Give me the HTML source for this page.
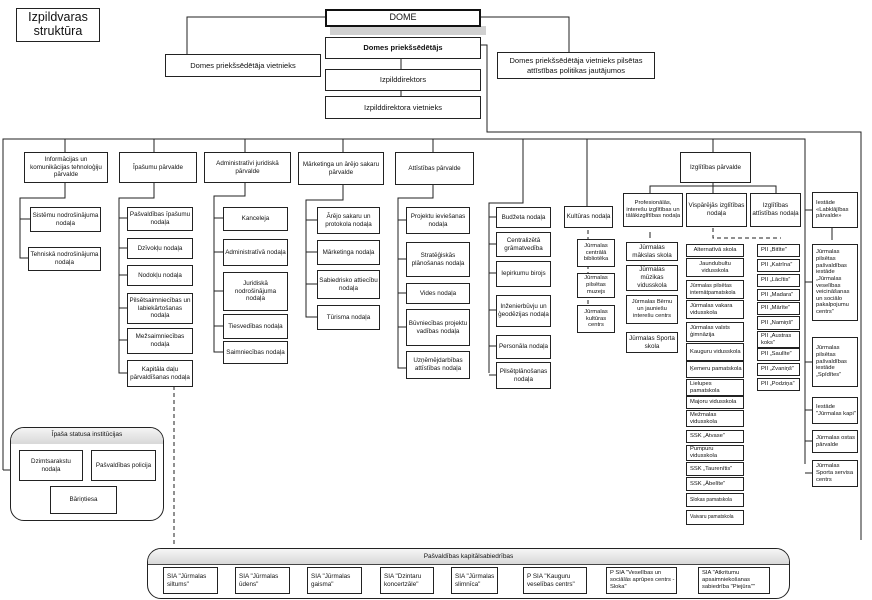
<!DOCTYPE html>
<html><head><meta charset="utf-8"><style>
*{margin:0;padding:0;box-sizing:border-box}
body{width:872px;height:600px;background:#fff;position:relative;overflow:hidden;font-family:"Liberation Sans",sans-serif;color:#111}
.b{position:absolute;border:1px solid #222;background:#fff;display:flex;align-items:center;justify-content:center;text-align:center;font-size:6.3px;line-height:1.25;padding:0 1px}
.l{justify-content:flex-start;text-align:left;padding-left:3px}
.s{font-size:5.8px;line-height:1.2}
.m{font-size:8px}
svg{position:absolute;left:0;top:0}
.r{position:absolute;border:1px solid #222;border-radius:14px;background:#fff}
.h{position:absolute;font-size:6.5px;text-align:center}
</style></head><body>
<svg width="872" height="600">
<g stroke="#222" stroke-width="1" fill="none">
<rect x="330" y="26" width="156" height="9" fill="#d0d0d0" stroke="none"/>
<path d="M325 17H187V54M480 17H569V52M401 58V118M480 45H487V132H861V540M3 470V139H805V464"/>
<path d="M65 139V152M154 139V152M245 139V152M343 139V152M433 139V152M523 139V203H489V373M587 139V206M713 139V152"/>
<path d="M65 182V198H20V258H28M20 219H30"/>
<path d="M154 182V198H119V373H127M119 218H127M119 248H127M119 275H127M119 308H127M119 340H127"/>
<path d="M245 182V196H214V352H223M214 218H223M214 252H223M214 291H223M214 326H223"/>
<path d="M343 184V200H306V317H317M306 220H317M306 252H317M306 284H317"/>
<path d="M433 184V198H398V368H406M398 220H406M398 259H406M398 293H406M398 327H406"/>
<path d="M489 217H496M489 244H496M489 273H496M489 310H496M489 346H496M489 375H496"/>
<path d="M713 182V186H650V193M713 186V193M713 186H776V193"/>
<path d="M805 210H812M805 282H812M805 362H812M805 410H812M805 441H812M805 473H812M3 470H10"/>
<path d="M650 232V238M832 228V240" />
<path d="M588 230V324M585 252H590M585 285H590M585 318H590M713 228V238H781M174 386V546" stroke-dasharray="4,3"/>
</g>
</svg>
<div class="b m" style="left:16px;top:8px;width:84px;height:34px;font-size:12.5px;line-height:1.1">Izpildvaras<br>struktūra</div>
<div class="b m" style="left:325px;top:9px;width:156px;height:18px;border:2px solid #111;font-size:9px">DOME</div>
<div class="b m" style="left:325px;top:37px;width:156px;height:22px;font-weight:bold;font-size:7.5px">Domes priekšsēdētājs</div>
<div class="b m" style="left:165px;top:54px;width:156px;height:23px;font-size:7.5px">Domes priekšsēdētāja vietnieks</div>
<div class="b m" style="left:497px;top:52px;width:158px;height:27px;font-size:7.5px">Domes priekšsēdētāja vietnieks pilsētas attīstības politikas jautājumos</div>
<div class="b m" style="left:325px;top:69px;width:156px;height:22px;font-size:7.5px">Izpilddirektors</div>
<div class="b m" style="left:325px;top:96px;width:156px;height:23px;font-size:7.5px">Izpilddirektora vietnieks</div>

<div class="b" style="left:24px;top:152px;width:84px;height:31px">Informācijas un komunikācijas tehnoloģiju pārvalde</div>
<div class="b" style="left:119px;top:152px;width:78px;height:31px">Īpašumu pārvalde</div>
<div class="b" style="left:204px;top:152px;width:87px;height:31px">Administratīvi juridiskā pārvalde</div>
<div class="b" style="left:298px;top:152px;width:86px;height:33px">Mārketinga un ārējo sakaru pārvalde</div>
<div class="b" style="left:395px;top:152px;width:79px;height:33px">Attīstības pārvalde</div>
<div class="b" style="left:680px;top:152px;width:71px;height:31px">Izglītības pārvalde</div>

<div class="b" style="left:30px;top:207px;width:71px;height:25px">Sistēmu nodrošinājuma nodaļa</div>
<div class="b" style="left:28px;top:247px;width:73px;height:24px">Tehniskā nodrošinājuma nodaļa</div>

<div class="b" style="left:127px;top:207px;width:66px;height:24px">Pašvaldības īpašumu nodaļa</div>
<div class="b" style="left:127px;top:238px;width:66px;height:21px">Dzīvokļu nodaļa</div>
<div class="b" style="left:127px;top:265px;width:66px;height:21px">Nodokļu nodaļa</div>
<div class="b" style="left:127px;top:293px;width:66px;height:31px">Pilsētsaimniecības un labiekārtošanas nodaļa</div>
<div class="b" style="left:127px;top:328px;width:66px;height:26px">Mežsaimniecības nodaļa</div>
<div class="b" style="left:127px;top:360px;width:66px;height:27px">Kapitāla daļu pārvaldīšanas nodaļa</div>

<div class="b" style="left:223px;top:207px;width:65px;height:24px">Kanceleja</div>
<div class="b" style="left:223px;top:239px;width:65px;height:27px">Administratīvā nodaļa</div>
<div class="b" style="left:223px;top:272px;width:65px;height:39px">Juridiskā nodrošinājuma nodaļa</div>
<div class="b" style="left:223px;top:314px;width:65px;height:25px">Tiesvedības nodaļa</div>
<div class="b" style="left:223px;top:341px;width:65px;height:23px">Saimniecības nodaļa</div>

<div class="b" style="left:317px;top:207px;width:63px;height:27px">Ārējo sakaru un protokola nodaļa</div>
<div class="b" style="left:317px;top:240px;width:63px;height:25px">Mārketinga nodaļa</div>
<div class="b" style="left:317px;top:270px;width:63px;height:29px">Sabiedrisko attiecību nodaļa</div>
<div class="b" style="left:317px;top:305px;width:63px;height:25px">Tūrisma nodaļa</div>

<div class="b" style="left:406px;top:207px;width:64px;height:27px">Projektu ieviešanas nodaļa</div>
<div class="b" style="left:406px;top:242px;width:64px;height:35px">Stratēģiskās plānošanas nodaļa</div>
<div class="b" style="left:406px;top:283px;width:64px;height:21px">Vides nodaļa</div>
<div class="b" style="left:406px;top:309px;width:64px;height:37px">Būvniecības projektu vadības nodaļa</div>
<div class="b" style="left:406px;top:351px;width:64px;height:28px">Uzņēmējdarbības attīstības nodaļa</div>

<div class="b" style="left:496px;top:207px;width:55px;height:21px">Budžeta nodaļa</div>
<div class="b" style="left:496px;top:232px;width:55px;height:25px">Centralizētā grāmatvedība</div>
<div class="b" style="left:496px;top:261px;width:55px;height:26px">Iepirkumu birojs</div>
<div class="b" style="left:496px;top:295px;width:55px;height:32px">Inženierbūvju un ģeodēzijas nodaļa</div>
<div class="b" style="left:496px;top:335px;width:55px;height:24px">Personāla nodaļa</div>
<div class="b" style="left:496px;top:362px;width:55px;height:27px">Pilsētplānošanas nodaļa</div>

<div class="b" style="left:564px;top:206px;width:49px;height:22px">Kultūras nodaļa</div>
<div class="b s" style="left:577px;top:239px;width:38px;height:28px">Jūrmalas centrālā bibliotēka</div>
<div class="b s" style="left:577px;top:273px;width:38px;height:25px">Jūrmalas pilsētas muzejs</div>
<div class="b s" style="left:577px;top:305px;width:38px;height:28px">Jūrmalas kultūras centrs</div>

<div class="b s" style="left:623px;top:193px;width:60px;height:34px">Profesionālās, interešu izglītības un tālākizglītības nodaļa</div>
<div class="b" style="left:686px;top:193px;width:61px;height:34px">Vispārējās izglītības nodaļa</div>
<div class="b" style="left:750px;top:193px;width:51px;height:34px">Izglītības attīstības nodaļa</div>

<div class="b" style="left:626px;top:242px;width:52px;height:19px">Jūrmalas mākslas skola</div>
<div class="b" style="left:626px;top:265px;width:52px;height:26px">Jūrmalas mūzikas vidusskola</div>
<div class="b s" style="left:626px;top:295px;width:52px;height:29px">Jūrmalas Bērnu un jauniešu interešu centrs</div>
<div class="b" style="left:626px;top:332px;width:52px;height:21px">Jūrmalas Sporta skola</div>

<div class="b s" style="left:686px;top:244px;width:58px;height:13px">Alternatīvā skola</div>
<div class="b s" style="left:686px;top:258px;width:58px;height:19px">Jaundubultu vidusskola</div>
<div class="b l s" style="left:686px;top:280px;width:58px;height:19px;font-size:5.4px">Jūrmalas pilsētas internātpamatskola</div>
<div class="b l s" style="left:686px;top:300px;width:58px;height:19px">Jūrmalas vakara vidusskola</div>
<div class="b l s" style="left:686px;top:322px;width:58px;height:20px">Jūrmalas valsts ģimnāzija</div>
<div class="b l s" style="left:686px;top:343px;width:58px;height:18px">Kauguru vidusskola</div>
<div class="b l s" style="left:686px;top:361px;width:58px;height:17px">Ķemeru pamatskola</div>
<div class="b l s" style="left:686px;top:379px;width:58px;height:17px">Lielupes pamatskola</div>
<div class="b l s" style="left:686px;top:396px;width:58px;height:13px">Majoru vidusskola</div>
<div class="b l s" style="left:686px;top:410px;width:58px;height:17px">Mežmalas vidusskola</div>
<div class="b l s" style="left:686px;top:430px;width:58px;height:13px">SSK „Atvase”</div>
<div class="b l s" style="left:686px;top:445px;width:58px;height:16px">Pumpuru vidusskola</div>
<div class="b l s" style="left:686px;top:462px;width:58px;height:14px">SSK „Taurenītis”</div>
<div class="b l s" style="left:686px;top:477px;width:58px;height:14px">SSK „Ābelīte”</div>
<div class="b l" style="left:686px;top:493px;width:58px;height:14px;font-size:5px">Slokas pamatskola</div>
<div class="b l" style="left:686px;top:510px;width:58px;height:15px;font-size:5px">Vaivaru pamatskola</div>

<div class="b l s" style="left:757px;top:244px;width:43px;height:13px">PII „Bitīte”</div>
<div class="b l s" style="left:757px;top:259px;width:43px;height:13px">PII „Katrīna”</div>
<div class="b l s" style="left:757px;top:274px;width:43px;height:13px">PII „Lācītis”</div>
<div class="b l s" style="left:757px;top:289px;width:43px;height:12px">PII „Madara”</div>
<div class="b l s" style="left:757px;top:302px;width:43px;height:13px">PII „Mārīte”</div>
<div class="b l s" style="left:757px;top:316px;width:43px;height:14px">PII „Namiņš”</div>
<div class="b l s" style="left:757px;top:331px;width:43px;height:17px">PII „Austras koks”</div>
<div class="b l s" style="left:757px;top:348px;width:43px;height:13px">PII „Saulīte”</div>
<div class="b l s" style="left:757px;top:363px;width:43px;height:13px">PII „Zvaniņš”</div>
<div class="b l s" style="left:757px;top:378px;width:43px;height:13px">PII „Podziņa”</div>

<div class="b l s" style="left:812px;top:192px;width:46px;height:36px">Iestāde «Labklājības pārvalde»</div>
<div class="b l s" style="left:812px;top:244px;width:46px;height:77px;line-height:1.15">Jūrmalas pilsētas pašvaldības iestāde „Jūrmalas veselības veicināšanas un sociālo pakalpojumu centrs”</div>
<div class="b l s" style="left:812px;top:337px;width:46px;height:50px">Jūrmalas pilsētas pašvaldības iestāde „Spīdītes”</div>
<div class="b l s" style="left:812px;top:397px;width:46px;height:27px">Iestāde "Jūrmalas kapi"</div>
<div class="b l s" style="left:812px;top:430px;width:46px;height:23px">Jūrmalas ostas pārvalde</div>
<div class="b l s" style="left:812px;top:460px;width:46px;height:27px">Jūrmalas Sporta servisa centrs</div>

<div class="r" style="left:10px;top:427px;width:154px;height:94px"></div>
<div style="position:absolute;left:11px;top:428px;width:152px;height:16px;border-radius:13px 13px 0 0;background:linear-gradient(#f4f4f4,#d8d8d8)"></div>
<div class="h" style="left:10px;top:431px;width:154px">Īpaša statusa institūcijas</div>
<div class="b" style="left:19px;top:450px;width:64px;height:31px">Dzimtsarakstu nodaļa</div>
<div class="b" style="left:91px;top:450px;width:65px;height:31px">Pašvaldības policija</div>
<div class="b" style="left:50px;top:486px;width:67px;height:28px">Bāriņtiesa</div>

<div class="r" style="left:147px;top:548px;width:643px;height:51px"></div>
<div style="position:absolute;left:148px;top:549px;width:641px;height:16px;border-radius:13px 13px 0 0;background:linear-gradient(#f6f6f6,#d8d8d8);border-bottom:1px solid #444"></div>
<div class="h" style="left:147px;top:553px;width:643px">Pašvaldības kapitālsabiedrības</div>
<div class="b l" style="left:163px;top:567px;width:55px;height:27px">SIA "Jūrmalas siltums"</div>
<div class="b l" style="left:235px;top:567px;width:55px;height:27px">SIA "Jūrmalas ūdens"</div>
<div class="b l" style="left:307px;top:567px;width:55px;height:27px">SIA "Jūrmalas gaisma"</div>
<div class="b l" style="left:380px;top:567px;width:54px;height:27px">SIA "Dzintaru koncertzāle"</div>
<div class="b l" style="left:451px;top:567px;width:47px;height:27px">SIA "Jūrmalas slimnīca"</div>
<div class="b l" style="left:523px;top:567px;width:64px;height:27px">P SIA "Kauguru veselības centrs"</div>
<div class="b l s" style="left:606px;top:567px;width:71px;height:27px">P SIA "Veselības un sociālās aprūpes centrs - Sloka"</div>
<div class="b l s" style="left:698px;top:567px;width:72px;height:27px">SIA "Atkritumu apsaimniekošanas sabiedrība "Piejūra""</div>
</body></html>
